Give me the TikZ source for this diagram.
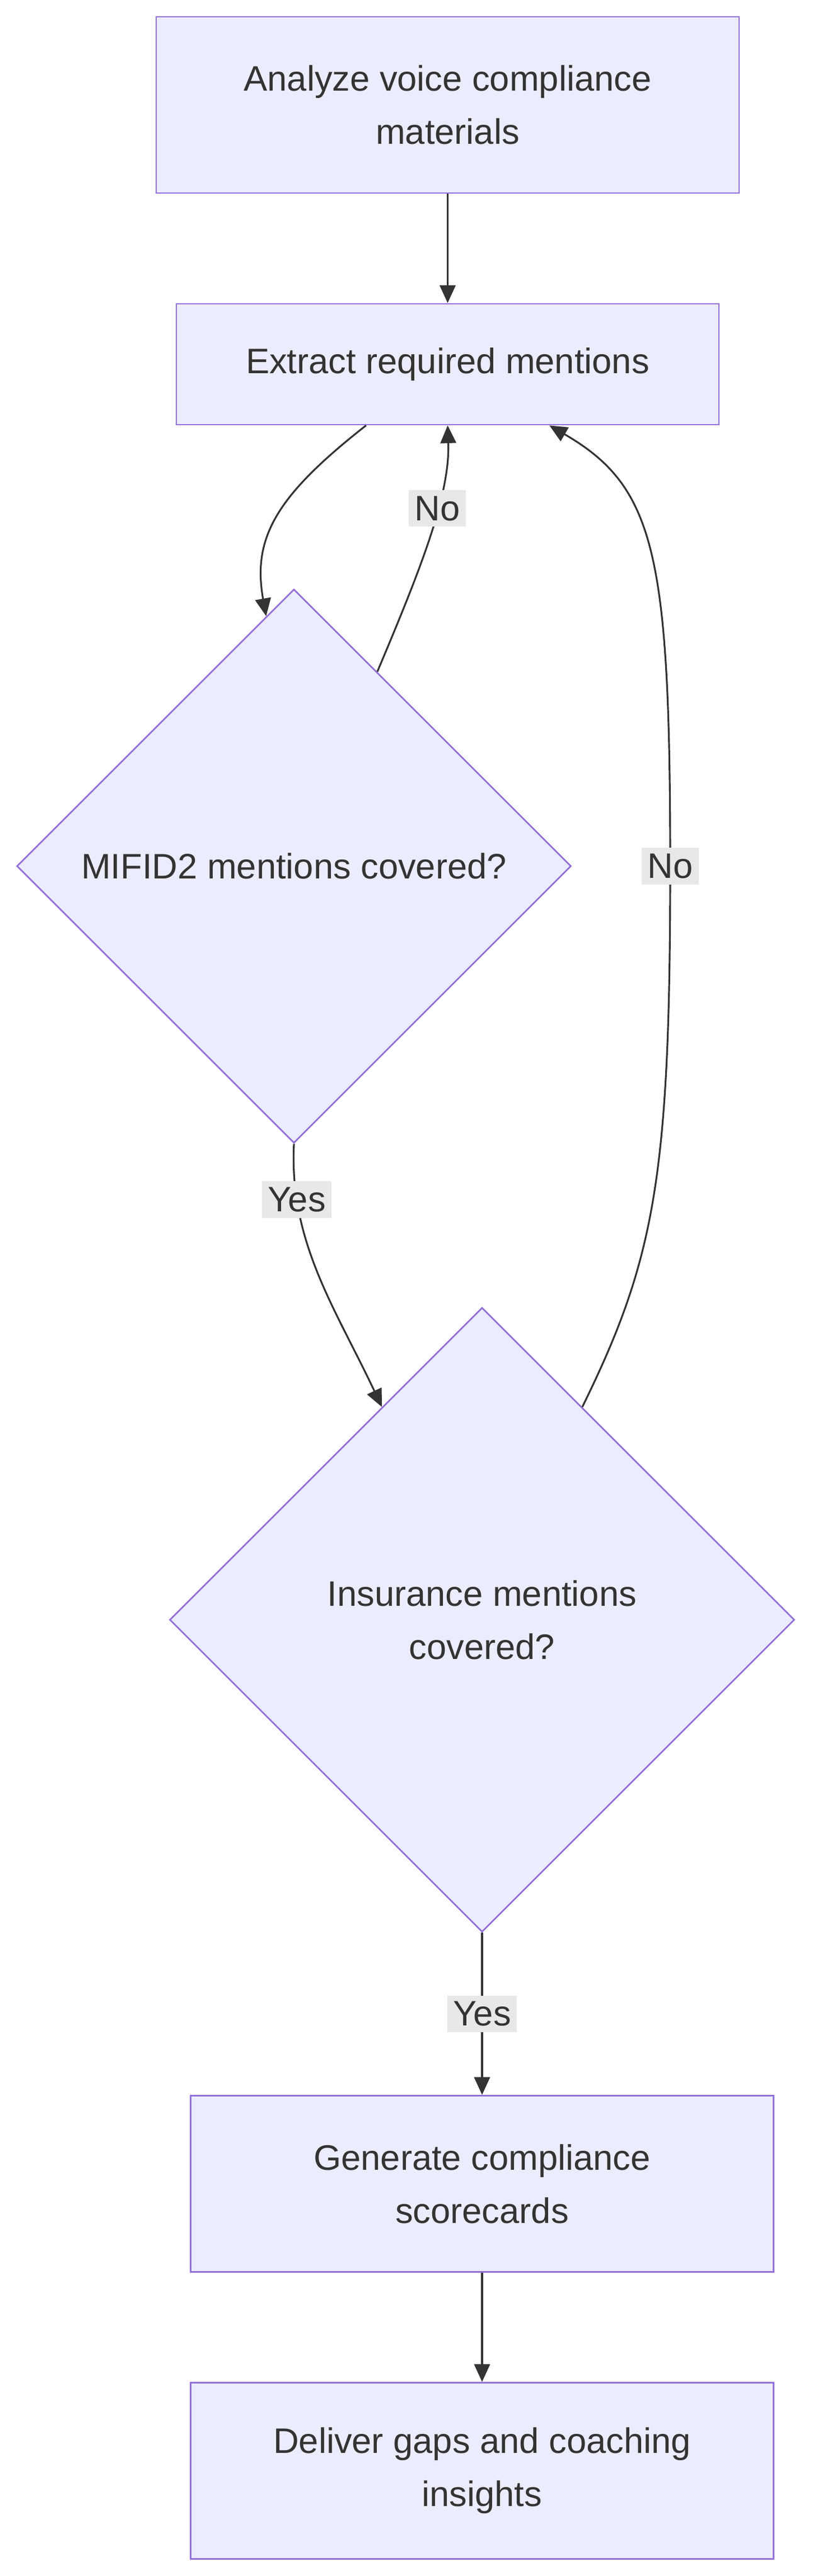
\documentclass[tikz,border=0pt]{standalone}
\usepackage{fontspec}
\setmainfont{Liberation Sans}
\usetikzlibrary{shapes.geometric,calc,arrows.meta}
\definecolor{boxfill}{HTML}{ECECFF}
\definecolor{boxline}{HTML}{9370DB}
\definecolor{edgecol}{HTML}{333333}
\definecolor{lblfill}{HTML}{E8E8E8}
\begin{document}
\begin{tikzpicture}[x=0.03cm,y=-0.03cm,
    every node/.style={font=\fontsize{18}{27}\selectfont,text=edgecol},
    procbox/.style={draw=boxline,fill=boxfill,line width=0.8pt,align=center,minimum width=10.41cm,minimum height=3.15cm},
    decision/.style={diamond,draw=boxline,fill=boxfill,line width=0.8pt,align=center,inner sep=0pt,aspect=1},
    edgelbl/.style={fill=lblfill,inner sep=3pt},
    flow/.style={draw=edgecol,line width=0.9pt,-{Triangle[length=9pt,width=8pt]}}]
    \useasboundingbox (0,0) rectangle (484,1534.7);
    \node[procbox] (analyze) at (266.5,62.5) {Analyze voice compliance\\materials};
    \node[procbox,minimum width=9.69cm,minimum height=2.16cm] (extract) at (266.5,217) {Extract required mentions};
    \node[decision,minimum size=9.9cm] (mifid) at (175,516) {MIFID2 mentions covered?};
    \node[decision,minimum size=11.16cm] (insur) at (287,965) {Insurance mentions\\covered?};
    \node[procbox] (score) at (287,1301) {Generate compliance\\scorecards};
    \node[procbox] (gaps) at (287,1472) {Deliver gaps and coaching\\insights};
    % connectors
    \draw[flow] (analyze) -- (extract);
    \draw[flow] ($(extract.south west)!0.35!(extract.south east)$) .. controls (165,295) and (150,320) .. ($(mifid.north)!0.1!(mifid.west)$);
    \draw[flow] ($(mifid.north)!0.3!(mifid.east)$) .. controls (250,340) and (268,295) .. (extract.south) node[edgelbl,pos=0.62] {No};
    \draw[flow] (mifid.south) .. controls (172,740) and (200,780) .. ($(insur.north)!0.32!(insur.west)$) node[edgelbl,pos=0.2] {Yes};
    \draw[flow] ($(insur.north)!0.32!(insur.east)$) .. controls (390,750) and (399,700) .. (399,516) node[edgelbl] {No}
        .. controls (399,330) and (390,290) .. ($(extract.south west)!0.687!(extract.south east)$);
    \draw[flow] (insur.south) -- (score.north) node[edgelbl,midway] {Yes};
    \draw[flow] (score) -- (gaps);
\end{tikzpicture}
\end{document}
